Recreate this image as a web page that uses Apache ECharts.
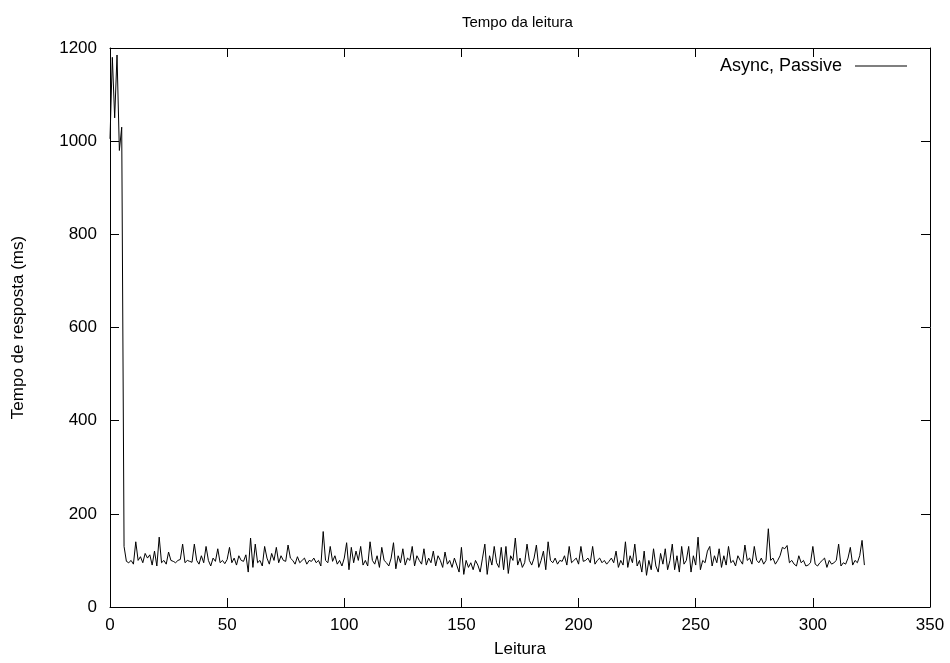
<!DOCTYPE html>
<html><head><meta charset="utf-8">
<script src="https://cdn.jsdelivr.net/npm/echarts@6/dist/echarts.min.js"></script>
<style>html,body{margin:0;padding:0;background:#fff}#c{width:950px;height:663px}</style>
</head><body><div id="c"></div>
<script>
const title = "Tempo da leitura";
const seriesName = "Async, Passive";
const xName = "Leitura";
const yName = "Tempo de resposta (ms)";
const xTicks = [0, 50, 100, 150, 200, 250, 300, 350];
const yTicks = [0, 200, 400, 600, 800, 1000, 1200];
const values = [
1005,1180,1050,1185,980,1030,130,98,95,100,
92,140,100,108,95,115,105,112,90,120,
88,150,95,100,92,118,100,98,95,100,
102,135,95,100,98,96,135,100,92,110,
95,130,100,88,105,98,125,95,100,93,
102,128,95,105,90,110,100,98,112,75,
148,85,135,95,100,88,130,105,92,115,
100,128,95,110,100,98,133,105,100,92,
108,95,100,105,92,100,98,105,95,100,
88,162,100,95,130,98,110,92,100,88,
105,138,80,128,95,120,100,130,90,100,
88,140,100,92,110,85,128,100,95,88,
105,138,82,110,95,125,90,105,100,130,
88,110,100,92,125,90,105,95,120,88,
110,100,85,118,92,100,85,105,90,75,
128,70,100,85,95,80,100,90,75,105,
135,70,110,90,130,95,85,128,80,130,
72,110,100,148,90,105,85,95,135,100,
90,105,133,85,100,120,80,140,100,95,
105,92,100,98,110,90,130,95,100,105,
92,130,98,100,105,95,130,92,100,105,
95,100,92,98,105,95,120,85,100,90,
140,85,110,95,135,88,100,75,120,68,
100,80,125,88,75,115,92,125,80,100,
135,80,110,75,130,92,100,130,75,110,
90,150,80,100,95,120,130,88,110,95,
125,85,110,90,130,95,100,88,110,100,
92,133,100,105,92,130,100,95,105,92,
100,168,100,105,92,100,110,128,125,132,
95,100,92,88,110,95,100,88,90,95,
130,92,88,95,100,105,85,100,92,95,
100,135,88,95,92,105,128,90,100,95,110,143,90
];
const data = values.map((v, i) => [i, v]);
const font = 'Liberation Sans, Arial, sans-serif';
const fs = 17;
const chart = echarts.init(document.getElementById('c'), null, {renderer: 'canvas'});
const axCommon = {
  axisLine: {show: true, onZero: false, lineStyle: {color: '#000', width: 1}},
  axisTick: {show: true, inside: true, length: 9, lineStyle: {color: '#000'}},
  splitLine: {show: false}
};
chart.setOption({
  animation: false,
  backgroundColor: '#fff',
  title: {text: title, left: 457, top: 10, textStyle: {fontFamily: font, fontSize: 15, fontWeight: 'normal', color: '#000'}},
  grid: {left: 110, right: 20, top: 48, bottom: 56, containLabel: false},
  legend: {
    data: [{name: seriesName, icon: 'rect'}], right: 43, top: 57, align: 'right', padding: 0,
    itemWidth: 52, itemHeight: 1, itemGap: 0,
    itemStyle: {color: '#000'},
    textStyle: {fontFamily: font, fontSize: 18, color: '#000', padding: [0, 8, 0, 0]}
  },
  xAxis: [
    Object.assign({type: 'value', min: 0, max: 350, interval: 50, name: xName, nameLocation: 'middle', nameGap: 34,
      nameTextStyle: {fontFamily: font, fontSize: fs, color: '#000'},
      axisLabel: {fontFamily: font, fontSize: fs, color: '#000', margin: 10, formatter: v => String(v)}}, axCommon),
    Object.assign({type: 'value', min: 0, max: 350, interval: 50, position: 'top', axisLabel: {show: false}}, axCommon)
  ],
  yAxis: [
    Object.assign({type: 'value', min: 0, max: 1200, interval: 200, name: yName, nameLocation: 'middle', nameGap: 83,
      nameTextStyle: {fontFamily: font, fontSize: fs, color: '#000'},
      axisLabel: {fontFamily: font, fontSize: fs, color: '#000', margin: 13, formatter: v => String(v)}}, axCommon),
    Object.assign({type: 'value', min: 0, max: 1200, interval: 200, position: 'right', axisLabel: {show: false}}, axCommon)
  ],
  series: [{
    name: seriesName, type: 'line', data: data, showSymbol: false, symbol: 'none',
    lineStyle: {color: '#000', width: 1}, itemStyle: {color: '#000'}
  }]
});
</script></body></html>
